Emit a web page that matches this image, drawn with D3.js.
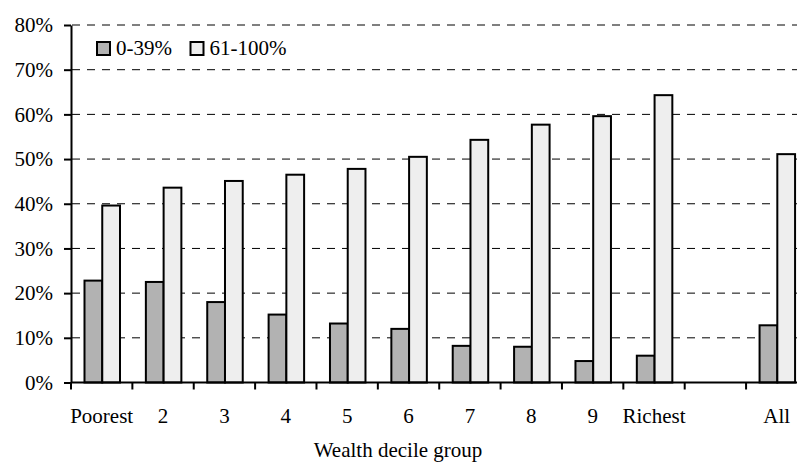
<!DOCTYPE html>
<html>
<head>
<meta charset="utf-8">
<script src="https://cdn.jsdelivr.net/npm/d3@7"></script>
<style>
  body { margin: 0; background: #fff; }
  #chart text { font-family: "Liberation Serif", FreeSerif, Tinos, serif !important; font-size: 21px !important; }
</style>
</head>
<body>
<svg id="chart" width="797" height="466"></svg>
<script>
// wealth decile groups, one empty slot before "All"
let categories = ['Poorest', '2', '3', '4', '5', '6', '7', '8', '9', 'Richest', ' ', 'All'];
let seriesNames = ['0-39%', '61-100%'];
let low = [22.8, 22.5, 18.0, 15.2, 13.2, 12.0, 8.2, 8.0, 4.8, 6.0, null, 12.8];
let high = [39.6, 43.6, 45.1, 46.5, 47.8, 50.5, 54.3, 57.7, 59.6, 64.3, null, 51.1];
let yTicks = [0, 10, 20, 30, 40, 50, 60, 70, 80];
let colors = ['#b2b2b2', '#eeeeee'];

window.addEventListener('load', () => {
    let svg = d3.select('svg#chart')
    let plotLeft = 71, plotBottom = 382.5, plotTop = 25
    let step = 61.37

    let x0 = d3.scaleBand()
        .domain(categories)
        .range([plotLeft, plotLeft + categories.length * step])
    let x1 = d3.scaleBand()
        .domain(seriesNames)
        .range([13.5, 49])
    let y = d3.scaleLinear()
        .domain([0, 80])
        .range([plotBottom, plotTop])

    // dashed gridlines
    svg.append('g')
        .selectAll('line')
        .data(yTicks.filter(d => d > 0))
        .join('line')
        .attr('x1', plotLeft + 1)
        .attr('x2', 797)
        .attr('y1', d => y(d))
        .attr('y2', d => y(d))
        .attr('stroke', '#000')
        .attr('stroke-width', 1)
        .attr('stroke-dasharray', '8,7')

    // bars
    let rows = categories.map((c, i) => ({ cat: c, vals: [low[i], high[i]] }))
    let groups = svg.append('g')
        .selectAll('g')
        .data(rows.filter(r => r.vals[0] != null))
        .join('g')
        .attr('transform', r => 'translate(' + x0(r.cat) + ',0)')
    groups.selectAll('rect')
        .data(r => r.vals.map((v, k) => ({ name: seriesNames[k], v: v, k: k })))
        .join('rect')
        .attr('x', d => x1(d.name))
        .attr('width', x1.bandwidth())
        .attr('y', d => y(d.v))
        .attr('height', d => plotBottom - y(d.v))
        .attr('fill', d => colors[d.k])
        .attr('stroke', '#000')
        .attr('stroke-width', 2)

    // y axis
    let yAxis = svg.append('g')
        .attr('transform', 'translate(' + plotLeft + ',0)')
        .call(d3.axisLeft(y).tickValues(yTicks).tickFormat(d => d + '%').tickSize(7).tickSizeOuter(0).tickPadding(11))
    yAxis.select('.domain').attr('stroke-width', 2)
    yAxis.selectAll('.tick line').attr('stroke-width', 2)

    // x axis: labels centred in each band, ticks on the band edges
    let xAxis = svg.append('g')
        .attr('transform', 'translate(0,' + plotBottom + ')')
        .call(d3.axisBottom(x0).tickSize(0).tickPadding(26))
    xAxis.select('.domain').attr('stroke-width', 2).attr('d', 'M' + plotLeft + ',0H797')
    xAxis.selectAll('line.edge')
        .data(categories)
        .join('line')
        .attr('class', 'edge')
        .attr('x1', d => x0(d))
        .attr('x2', d => x0(d))
        .attr('y1', 0)
        .attr('y2', 7)
        .attr('stroke', '#000')
        .attr('stroke-width', 2)
    svg.selectAll('.domain').attr('fill', 'none')
    svg.selectAll('g[font-family]').attr('font-family', null).attr('font-size', null)

    // axis title
    svg.append('text')
        .attr('x', 398)
        .attr('y', 457)
        .attr('text-anchor', 'middle')
        .text('Wealth decile group')

    // legend
    let legend = svg.append('g')
        .selectAll('g')
        .data(seriesNames)
        .join('g')
        .attr('transform', (d, i) => 'translate(' + (97 + i * 93.5) + ',42)')
    legend.append('rect')
        .attr('width', 13)
        .attr('height', 13)
        .attr('fill', (d, i) => colors[i])
        .attr('stroke', '#000')
        .attr('stroke-width', 2)
    legend.append('text')
        .attr('x', 19)
        .attr('y', 13)
        .text(d => d)

    // all text: Times-like serif
    svg.selectAll('text')
        .attr('font-family', 'Liberation Serif, FreeSerif, Tinos, serif')
        .attr('font-size', 21)
        .style('font-family', 'Liberation Serif, FreeSerif, Tinos, serif')
        .attr('fill', '#000')
})
</script>
</body>
</html>
